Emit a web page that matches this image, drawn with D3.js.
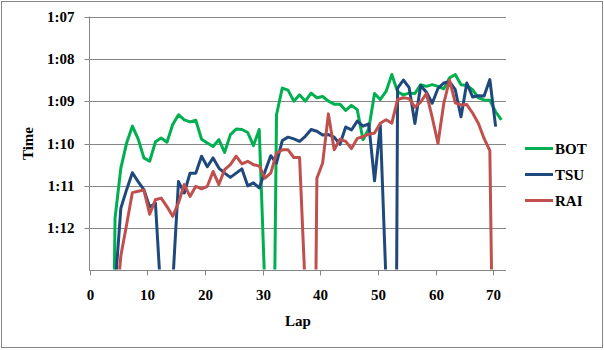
<!DOCTYPE html>
<html><head><meta charset="utf-8">
<script src="https://cdn.jsdelivr.net/npm/d3@7"></script>
<style>
html,body{margin:0;padding:0;background:#fff;}
svg{display:block;}
text{font-family:"Liberation Serif","Times New Roman",serif;font-weight:bold;fill:#000;}
</style>
</head><body>
<svg id="chart" width="604" height="350"></svg>
<script>
// ---- data (lap times in seconds; null = no lap) ----
const laps = [3,4,5,6,7,8,9,10,11,12,13,14,15,16,17,18,19,20,21,22,23,24,25,26,27,28,29,30,31,32,33,34,35,36,37,38,39,40,41,42,43,44,45,46,47,48,49,50,51,52,53,54,55,56,57,58,59,60,61,62,63,64,65,66,67,68,69,70,71];
const bot = [82,71.76,70.58,69.99,69.59,69.89,70.34,70.42,69.96,69.87,69.97,69.55,69.32,69.44,69.49,69.45,69.90,69.99,70.07,69.91,70.21,69.79,69.66,69.67,69.74,70.05,69.67,73.5,82,69.32,68.69,68.74,69.00,68.85,69.00,68.81,68.92,68.89,69.00,69.07,69.07,69.22,69.10,69.20,69.91,69.65,68.82,68.96,68.77,68.37,68.78,68.85,68.81,68.82,68.61,68.65,68.61,68.65,68.71,68.45,68.37,68.61,68.63,68.73,68.92,68.97,68.98,69.25,69.44];
const tsu = [null,73.4,71.53,71.09,70.69,70.90,71.09,71.50,71.41,73.7,85,73.3,70.90,71.17,70.70,70.70,70.30,70.55,70.34,70.58,70.70,70.80,70.70,70.60,71.00,70.93,71.05,70.66,70.29,70.46,69.93,69.85,69.89,69.95,69.83,69.67,69.71,69.80,69.79,69.85,70.02,69.61,69.68,69.47,69.59,69.54,70.88,69.57,73.3,95,68.69,68.50,68.68,69.53,68.63,68.79,69.05,68.70,68.57,68.54,68.73,69.37,68.57,68.90,68.87,68.88,68.49,69.60,null];
const rai = [null,74.2,72.65,71.92,71.16,71.13,71.10,71.67,71.33,71.29,71.49,71.72,71.40,70.97,71.25,71.01,71.07,71.01,70.66,70.97,70.62,70.50,70.30,70.48,70.42,70.50,70.53,70.82,70.70,70.23,70.15,70.15,70.33,70.33,73.5,85,70.82,70.46,69.30,70.15,69.90,69.95,70.12,69.88,69.84,69.78,69.75,69.52,69.44,69.52,68.96,68.92,68.94,69.14,69.02,68.82,69.38,70.00,69.06,68.50,69.04,69.09,69.08,69.28,69.52,69.88,70.17,80,null];

const seriesNames = ["BOT","TSU","RAI"];
const seriesColors = ["#00B050","#1F497D","#C0504D"];
const xTicks = [0,10,20,30,40,50,60,70];
const yTicks = [67,68,69,70,71,72];
const xTitle = "Lap";
const yTitle = "Time";

// ---- layout ----
const svg = d3.select("#chart");
const L = 89.7, R = 506, T = 16.5, B = 270.5;
const x = d3.scaleLinear().domain([0, 72.2]).range([L, R]);
const y = d3.scaleLinear().domain([67, 73]).range([T, B]);
const lapShift = 0.4; // points sit slightly right of the tick marks in the reference
const fmt = s => Math.floor(s/60) + ":" + String(Math.round(s%60)).padStart(2,"0");
const grey = "#868686";

svg.append("rect").attr("x",1.5).attr("y",1.5).attr("width",601).attr("height",346)
  .attr("fill","#fff").attr("stroke",grey).attr("stroke-width",1);

// gridlines
svg.append("g").selectAll("line").data(yTicks).join("line")
  .attr("x1", L).attr("x2", R)
  .attr("y1", d => Math.round(y(d))+0.5).attr("y2", d => Math.round(y(d))+0.5)
  .attr("stroke", grey).attr("stroke-width",1);

// y axis
const yAxis = svg.append("g").attr("transform", `translate(${Math.round(L)-0.5},0)`)
  .call(d3.axisLeft(y).tickValues(yTicks).tickSize(5).tickPadding(10).tickFormat(fmt));
yAxis.select(".domain").attr("stroke", grey).attr("d", `M0,${T}V${B}`);
yAxis.selectAll(".tick line").attr("stroke", grey);
yAxis.selectAll(".tick").attr("transform", d => `translate(0,${Math.round(y(d))+0.5})`);
yAxis.selectAll("text").attr("font-size", 15).attr("font-family", null);

// x axis
const xAxis = svg.append("g").attr("transform", `translate(0,${Math.round(B)-0.5})`)
  .call(d3.axisBottom(x).tickValues(xTicks).tickSize(5).tickPadding(14).tickFormat(d3.format("d")));
xAxis.select(".domain").attr("stroke", grey).attr("d", `M${Math.round(L)-0.5},0H${R}`);
xAxis.selectAll(".tick line").attr("stroke", grey);
xAxis.selectAll(".tick").attr("transform", d => `translate(${Math.round(x(d))+0.5},0)`);
xAxis.selectAll("text").attr("font-size", 15).attr("font-family", null);

// titles
svg.append("text").attr("x", (L+R)/2).attr("y", 326).attr("text-anchor","middle")
  .attr("font-size", 15).text(xTitle);
svg.append("text").attr("transform", `translate(33,${(T+B)/2}) rotate(-90)`)
  .attr("text-anchor","middle").attr("font-size", 15).text(yTitle);

// clip
svg.append("clipPath").attr("id","plot").append("rect")
  .attr("x", L).attr("y", T-3).attr("width", R-L).attr("height", B-T+2);

const seriesData = [bot, tsu, rai];
const line = d3.line()
  .defined(d => d.v !== null)
  .x(d => x(d.lap + lapShift))
  .y(d => y(d.v));

const g = svg.append("g").attr("clip-path","url(#plot)");
seriesData.forEach((vals, i) => {
  const pts = laps.map((lap, k) => ({lap, v: vals[k]}));
  g.append("path").datum(pts).attr("d", line)
    .attr("fill","none").attr("stroke", seriesColors[i])
    .attr("stroke-width", 3).attr("stroke-linejoin","round").attr("stroke-linecap","butt");
});

// legend
const legY = [148.5, 174.5, 200.5];
const leg = svg.append("g");
seriesNames.forEach((n, i) => {
  leg.append("line").attr("x1",525).attr("x2",553).attr("y1",legY[i]).attr("y2",legY[i])
    .attr("stroke", seriesColors[i]).attr("stroke-width",3);
  leg.append("text").attr("x",555).attr("y",legY[i]).attr("dy","0.35em")
    .attr("font-size",15).text(n);
});
</script>
</body></html>
